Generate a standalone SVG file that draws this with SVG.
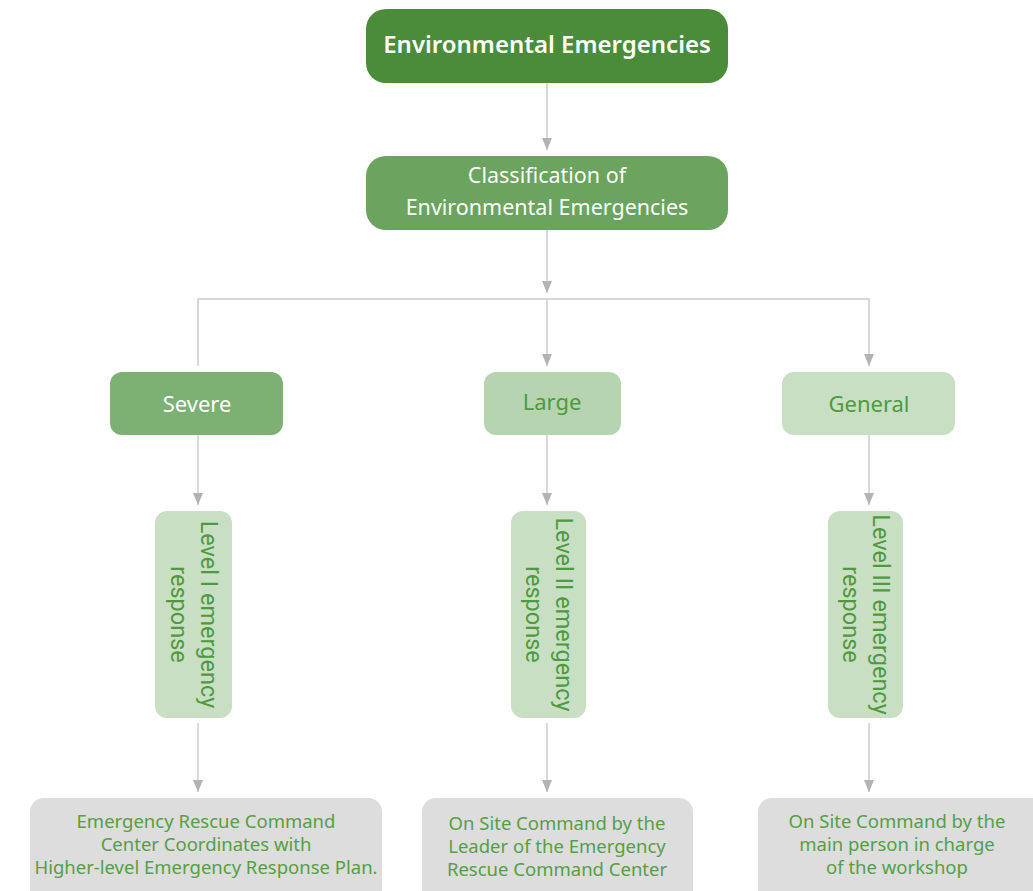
<svg xmlns="http://www.w3.org/2000/svg" width="1033" height="891" viewBox="0 0 1033 891">
<defs>
<marker id="arr" markerWidth="12" markerHeight="10" refX="12" refY="5" orient="auto" markerUnits="userSpaceOnUse">
<path d="M0,0 L12,5 L0,10 Z" fill="#b3b3b3"/>
</marker>
<style>
.ln{fill:none;stroke:#cccccc;stroke-width:1.5}
.t{font-family:"Noto Sans","Open Sans",sans-serif;text-anchor:middle}
.w{fill:#ffffff}
.g{fill:#4e9a3e}
.v{font-family:Roboto,"Liberation Sans",sans-serif;font-size:23.5px;fill:#4e9a3e;text-anchor:middle}
.b{font-family:"Noto Sans","Open Sans",sans-serif;font-size:18.5px;fill:#55a045;text-anchor:middle}
</style>
</defs>
<rect width="1033" height="891" fill="#ffffff"/>
<g id="connectors">
<path class="ln" d="M547,83 V150" marker-end="url(#arr)"/>
<path class="ln" d="M547,230 V293" marker-end="url(#arr)"/>
<path class="ln" d="M198,366 V299 H869 V366" marker-end="url(#arr)"/>
<path class="ln" d="M547,299 V366" marker-end="url(#arr)"/>
<path class="ln" d="M198,435 V505" marker-end="url(#arr)"/>
<path class="ln" d="M547,435 V505" marker-end="url(#arr)"/>
<path class="ln" d="M869,435 V505" marker-end="url(#arr)"/>
<path class="ln" d="M198,723 V792" marker-end="url(#arr)"/>
<path class="ln" d="M547,723 V792" marker-end="url(#arr)"/>
<path class="ln" d="M869,723 V792" marker-end="url(#arr)"/>
</g>
<g id="n-root">
<rect x="366" y="9" width="362" height="74" rx="20" fill="#4a8c39"/>
<text class="t w" x="547" y="53" font-size="24" font-weight="600">Environmental Emergencies</text>
</g>
<g id="n-class">
<rect x="366" y="156" width="362" height="74" rx="20" fill="#6aa45e"/>
<text class="t w" x="547" y="183" font-size="21.5">Classification of</text>
<text class="t w" x="547" y="215" font-size="21.5">Environmental Emergencies</text>
</g>
<g id="n-severe">
<rect x="110" y="372" width="173" height="63" rx="12" fill="#7db073"/>
<text class="t w" x="197" y="412" font-size="22">Severe</text>
</g>
<g id="n-large">
<rect x="484" y="372" width="137" height="63" rx="12" fill="#b5d4af"/>
<text class="t g" x="552" y="410" font-size="22">Large</text>
</g>
<g id="n-general">
<rect x="782" y="372" width="173" height="63" rx="12" fill="#c8dfc3"/>
<text class="t g" x="869" y="412" font-size="22">General</text>
</g>
<g id="n-l1">
<rect x="155" y="511" width="77" height="207" rx="12" fill="#c8dfc3"/>
<g transform="translate(193.5,614.5) rotate(90)">
<text class="v" x="0" y="-7">Level I emergency</text>
<text class="v" x="0" y="23">response</text>
</g>
</g>
<g id="n-l2">
<rect x="511" y="511" width="75" height="207" rx="12" fill="#c8dfc3"/>
<g transform="translate(548.5,614.5) rotate(90)">
<text class="v" x="0" y="-7">Level II emergency</text>
<text class="v" x="0" y="23">response</text>
</g>
</g>
<g id="n-l3">
<rect x="828" y="511" width="75" height="207" rx="12" fill="#c8dfc3"/>
<g transform="translate(865.5,614.5) rotate(90)">
<text class="v" x="0" y="-7">Level III emergency</text>
<text class="v" x="0" y="23">response</text>
</g>
</g>
<g id="n-b1">
<rect x="30" y="798" width="352" height="110" rx="14" fill="#dcdddc"/>
<text class="b" x="206" y="828">Emergency Rescue Command</text>
<text class="b" x="206" y="851">Center Coordinates with</text>
<text class="b" x="206" y="874">Higher-level Emergency Response Plan.</text>
</g>
<g id="n-b2">
<rect x="422" y="798" width="271" height="110" rx="14" fill="#dcdddc"/>
<text class="b" x="557" y="830">On Site Command by the</text>
<text class="b" x="557" y="853">Leader of the Emergency</text>
<text class="b" x="557" y="876">Rescue Command Center</text>
</g>
<g id="n-b3">
<rect x="758" y="798" width="290" height="110" rx="14" fill="#dcdddc"/>
<text class="b" x="897" y="828">On Site Command by the</text>
<text class="b" x="897" y="851">main person in charge</text>
<text class="b" x="897" y="874">of the workshop</text>
</g>
</svg>
